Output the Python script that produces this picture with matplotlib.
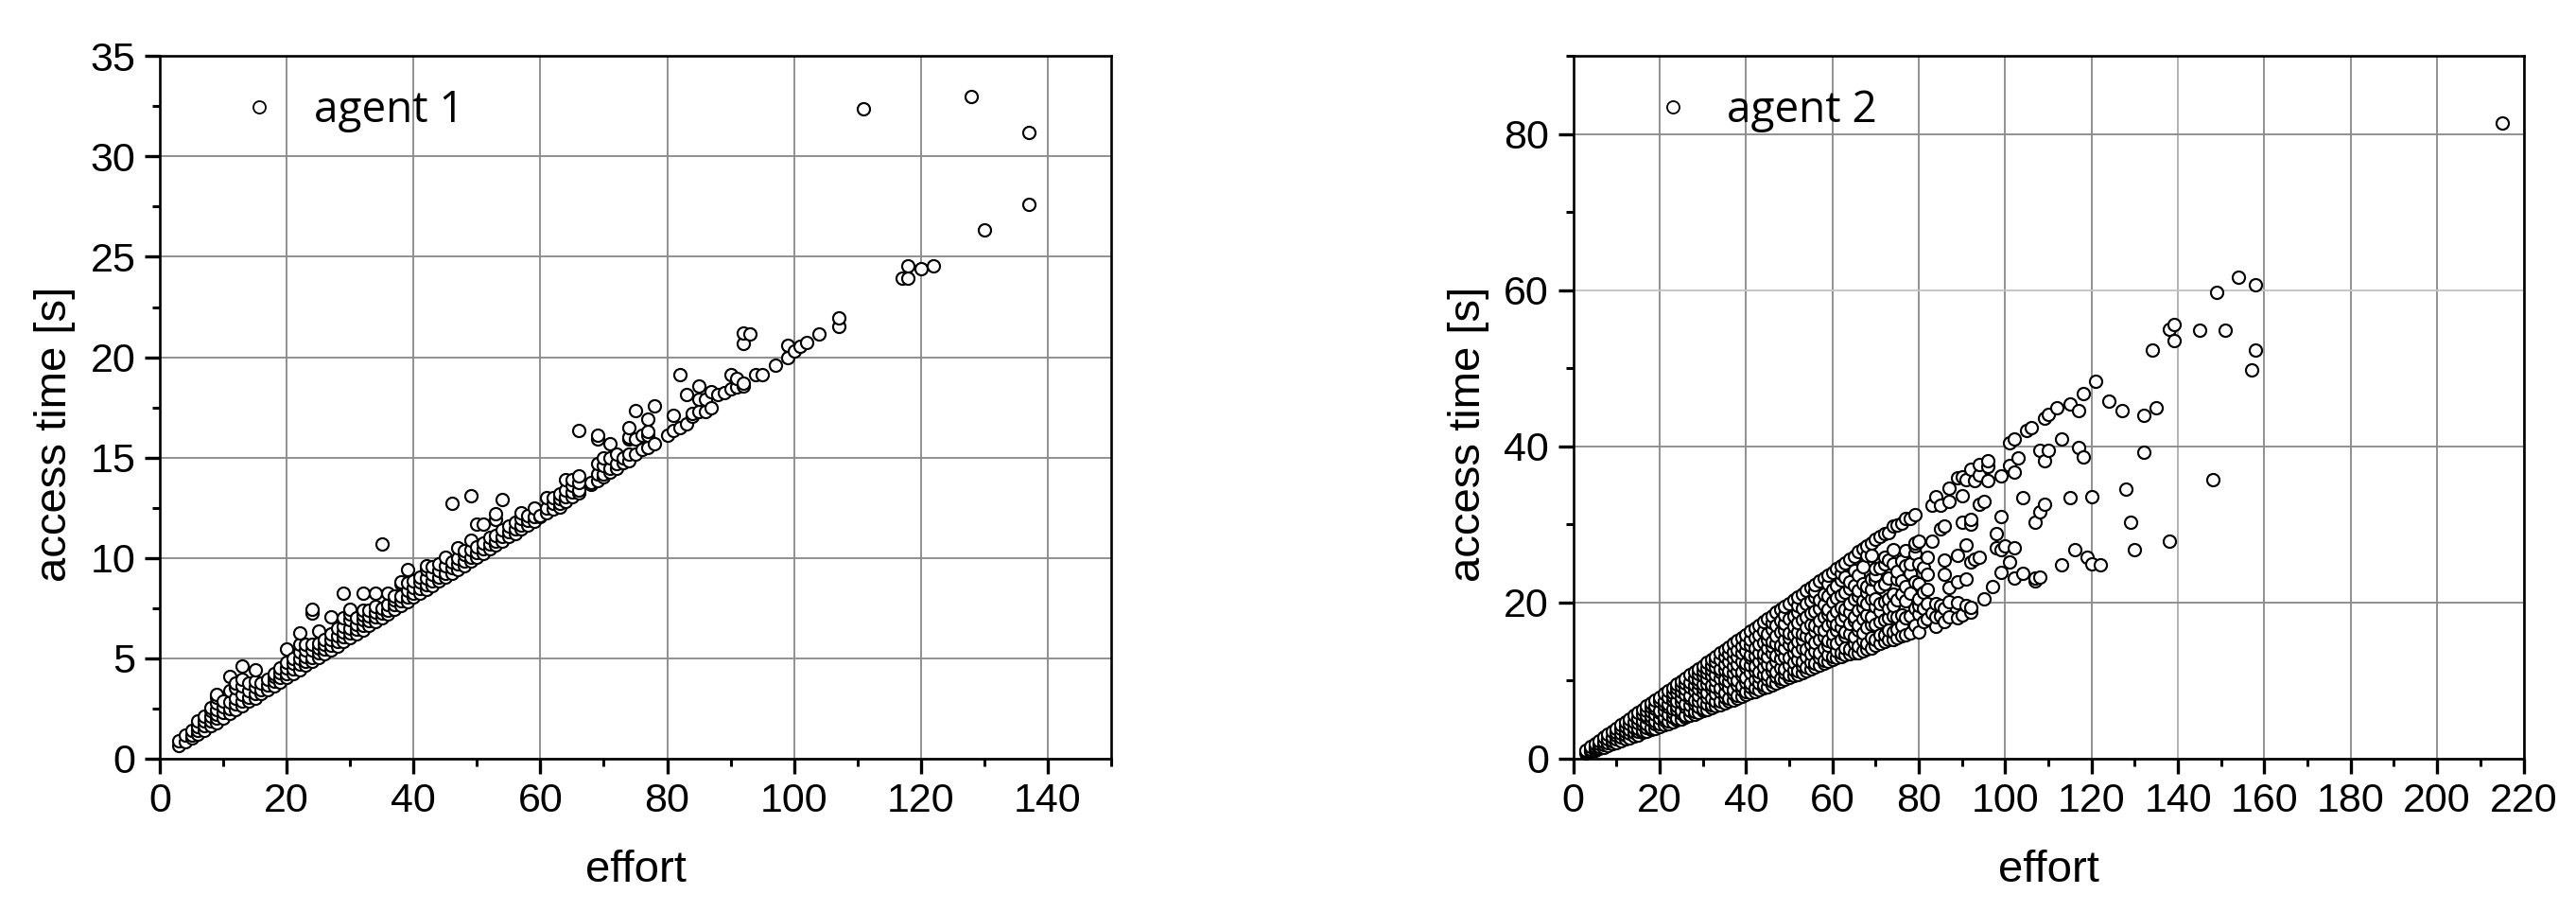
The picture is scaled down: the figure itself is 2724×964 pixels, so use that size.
import matplotlib
matplotlib.use("Agg")
import matplotlib.pyplot as plt
from matplotlib.ticker import MultipleLocator

plt.rcParams["font.family"] = ["Liberation Sans", "DejaVu Sans"]

# each row of times belongs to the effort at the same position
agent1_effort = [
    3, 4, 5, 6, 7, 8, 9, 10, 11, 12, 13, 14, 15, 16, 17, 18, 19, 20, 21, 22, 23, 24, 25, 26, 27, 28, 29, 30,
    31, 32, 33, 34, 35, 36, 37, 38, 39, 40, 41, 42, 43, 44, 45, 46, 47, 48, 49, 50, 51, 52, 53, 54, 55, 56,
    57, 58, 59, 60, 61, 62, 63, 64, 65, 66, 68, 69, 70, 71, 72, 73, 74, 75, 76, 77, 78, 80, 81, 82, 83, 84,
    85, 86, 87, 88, 89, 90, 91, 92, 93, 94, 95, 97, 99, 100, 101, 102, 104, 107, 111, 117, 118, 120, 122,
    128, 130, 137,
]
agent1_time = [
    [0.63, 0.86], [0.85, 1.18], [1.0, 1.15, 1.4], [1.22, 1.4, 1.6, 1.88], [1.42, 1.65, 1.85, 2.1],
    [1.62, 1.85, 2.1, 2.4, 2.55], [1.8, 2.0, 2.2, 2.45, 2.75, 3.06, 3.2], [2.02, 2.3, 2.6, 2.85],
    [2.25, 2.5, 2.8, 3.4, 4.07], [2.45, 2.7, 3.0, 3.5, 3.75], [2.62, 2.85, 3.2, 3.6, 3.95, 4.63],
    [2.85, 3.05, 3.4, 3.75], [3.02, 3.25, 3.55, 3.85, 4.4], [3.22, 3.45, 3.75], [3.42, 3.65, 3.95],
    [3.62, 3.85, 4.1, 4.25], [3.82, 4.05, 4.3, 4.5], [4.02, 4.25, 4.5, 4.8, 5.45], [4.22, 4.45, 4.75, 5.0],
    [4.42, 4.7, 5.0, 5.3, 5.7, 6.28], [4.65, 4.85, 5.1, 5.4, 5.7], [4.82, 5.05, 5.4, 5.7, 7.27, 7.45],
    [5.02, 5.25, 5.5, 5.75, 6.36], [5.22, 5.45, 5.7, 5.95], [5.42, 5.65, 5.95, 6.2, 7.06],
    [5.62, 5.85, 6.1, 6.5], [5.82, 6.05, 6.3, 6.6, 7.0, 8.24], [6.02, 6.25, 6.5, 6.9, 7.2, 7.45],
    [6.22, 6.45, 6.7, 7.0], [6.42, 6.65, 6.9, 7.15, 7.4, 8.24], [6.62, 6.85, 7.1, 7.4],
    [6.82, 7.05, 7.3, 7.6, 8.24], [7.02, 7.25, 7.5, 10.7], [7.22, 7.4, 7.65, 8.24], [7.42, 7.65, 7.9, 8.1],
    [7.62, 7.85, 8.1, 8.7, 8.8], [7.82, 8.05, 8.4, 8.75, 9.4], [8.05, 8.25, 8.5, 8.85], [8.22, 8.45, 8.8, 9.05],
    [8.42, 8.65, 9.0, 9.4, 9.6], [8.62, 8.85, 9.2, 9.55], [8.85, 9.05, 9.35, 9.7], [9.02, 9.25, 9.6, 10.05],
    [9.25, 9.5, 9.8, 12.7], [9.42, 9.7, 10.0, 10.5], [9.62, 9.85, 10.15, 10.35], [9.85, 10.05, 10.4, 10.9, 13.1],
    [10.05, 10.25, 10.55, 11.7], [10.22, 10.45, 10.75, 11.67], [10.45, 10.7, 11.0],
    [10.62, 10.85, 11.1, 11.9, 12.2], [10.85, 11.05, 11.4, 12.9], [11.05, 11.3, 11.6], [11.22, 11.45, 11.75],
    [11.42, 11.65, 11.95, 12.25], [11.62, 11.85, 12.1], [11.82, 12.05, 12.5], [12.05, 12.1], [12.25, 12.5, 13.0],
    [12.45, 12.7, 13.0], [12.55, 12.7, 12.95, 13.2], [12.8, 13.05, 13.4, 13.9], [13.05, 13.3, 13.6, 13.9],
    [13.25, 13.4, 13.75, 14.1, 16.35], [13.65, 13.75], [13.85, 14.2, 14.7, 15.9, 16.1], [14.05, 14.2, 14.6, 15.0],
    [14.25, 14.45, 15.0, 15.7], [14.45, 14.7, 15.15], [14.75, 15.0], [14.85, 15.15, 15.9, 16.0, 16.5],
    [15.15, 15.9, 17.35], [15.4, 16.1], [15.5, 16.1, 16.3, 16.9], [15.7, 17.55], [16.1], [16.35, 17.1],
    [16.5, 19.15], [16.7, 18.15], [17.05, 17.2], [17.3, 17.9, 18.55], [17.3, 17.9], [17.5, 18.3], [18.15],
    [18.25], [18.4, 19.15], [18.5, 18.95], [18.55, 18.7, 20.7, 21.2], [21.15], [19.15], [19.15], [19.6],
    [19.97, 20.6], [20.3], [20.55], [20.75], [21.15], [21.55, 21.97], [32.4], [23.94], [23.94, 24.53], [24.4],
    [24.55], [33.0], [26.36], [27.6, 31.2],
]

agent2_effort = [
    3, 4, 5, 6, 7, 8, 9, 10, 11, 12, 13, 14, 15, 16, 17, 18, 19, 20, 21, 22, 23, 24, 25, 26, 27, 28, 29, 30,
    31, 32, 33, 34, 35, 36, 37, 38, 39, 40, 41, 42, 43, 44, 45, 46, 47, 48, 49, 50, 51, 52, 53, 54, 55, 56,
    57, 58, 59, 60, 61, 62, 63, 64, 65, 66, 67, 68, 69, 70, 71, 72, 73, 74, 75, 76, 77, 78, 79, 80, 81, 82,
    83, 84, 85, 86, 87, 89, 90, 91, 92, 93, 94, 95, 96, 97, 98, 99, 100, 101, 102, 103, 104, 105, 106, 107,
    108, 109, 110, 112, 113, 115, 116, 117, 118, 119, 120, 121, 122, 124, 127, 128, 129, 130, 132, 134, 135,
    138, 139, 145, 148, 149, 151, 154, 157, 158, 215,
]
agent2_time = [
    [0.7, 0.9, 1.1], [0.9, 1.2, 1.5], [1.0, 1.3, 1.6, 1.9], [1.25, 1.6, 1.9, 2.3], [1.45, 1.8, 2.2, 2.7],
    [1.65, 2.0, 2.5, 3.1], [1.85, 2.3, 2.8, 3.5], [2.05, 2.5, 3.0, 3.4, 3.9], [2.25, 2.7, 3.2, 3.8, 4.3],
    [2.45, 3.0, 3.5, 4.1, 4.7], [2.65, 3.2, 3.7, 4.4, 5.1], [2.85, 3.4, 4.0, 4.7, 5.5],
    [3.05, 3.5, 3.9, 4.6, 5.2, 5.9],
    [3.3, 3.6, 4.3, 4.8, 5.7, 6.3],
    [3.5, 4.0, 4.5, 5.3, 5.5, 6.1, 6.7],
    [3.7, 4.0, 4.9, 5.4, 6.0, 6.6, 7.1],
    [3.9, 4.5, 4.8, 5.7, 6.4, 6.8, 7.5],
    [4.1, 4.4, 5.2, 5.9, 6.2, 7.3, 7.9],
    [4.3, 4.9, 5.3, 6.1, 6.9, 7.4, 8.3],
    [4.5, 4.8, 5.7, 6.6, 7.0, 7.9, 8.7],
    [4.7, 5.3, 5.9, 6.4, 7.5, 8.0, 8.5, 9.1],
    [4.9, 5.2, 6.3, 6.8, 7.3, 8.4, 9.0, 9.5],
    [5.1, 5.8, 6.2, 7.2, 7.9, 8.6, 9.3, 9.9],
    [5.3, 5.6, 6.6, 7.0, 8.2, 8.9, 9.7, 10.3],
    [5.5, 6.2, 6.9, 7.7, 8.1, 9.2, 9.8, 10.7],
    [5.7, 6.0, 7.0, 7.5, 8.7, 9.4, 10.3, 11.1],
    [5.9, 6.6, 7.4, 8.1, 8.9, 9.7, 10.1, 10.9, 11.5],
    [6.1, 6.4, 7.2, 8.4, 9.1, 9.5, 10.6, 11.2, 11.9],
    [6.3, 7.0, 7.9, 8.5, 9.6, 10.3, 11.0, 11.6, 12.3],
    [6.5, 6.9, 7.7, 8.9, 9.4, 10.6, 11.4, 12.0, 12.7],
    [6.7, 7.4, 8.3, 9.2, 10.0, 10.7, 11.7, 12.4, 13.1],
    [6.9, 7.3, 8.6, 9.0, 10.3, 11.1, 11.5, 12.7, 13.5],
    [7.1, 7.9, 8.4, 9.6, 10.1, 11.4, 12.1, 13.1, 13.9],
    [7.3, 7.7, 9.0, 9.9, 10.7, 11.2, 12.4, 13.4, 14.3],
    [7.5, 8.3, 8.8, 10.2, 11.0, 11.8, 12.8, 13.7, 14.7],
    [7.7, 8.1, 9.4, 10.0, 11.3, 12.1, 13.1, 13.9, 15.1],
    [7.95, 8.8, 9.3, 10.6, 11.1, 12.5, 13.5, 14.4, 15.5],
    [8.2, 8.6, 9.8, 10.4, 11.7, 12.2, 13.8, 14.8, 15.9],
    [8.4, 9.2, 9.7, 11.0, 12.0, 12.9, 13.3, 14.5, 15.2, 16.3],
    [8.6, 9.0, 10.2, 11.3, 11.9, 13.2, 14.2, 15.5, 16.7],
    [8.8, 9.7, 10.5, 11.1, 12.4, 13.6, 14.6, 15.9, 17.1],
    [9.0, 9.4, 10.8, 11.7, 12.8, 13.4, 14.9, 16.3, 17.5],
    [9.2, 10.1, 10.7, 12.1, 13.1, 14.1, 15.3, 16.0, 17.9],
    [9.4, 9.9, 11.2, 11.9, 13.5, 14.4, 15.0, 16.6, 17.4, 18.3],
    [9.7, 10.5, 11.1, 12.5, 13.2, 14.8, 15.7, 17.0, 18.7],
    [9.9, 10.3, 11.6, 12.8, 13.9, 14.5, 16.2, 17.7, 19.1],
    [10.1, 11.0, 11.5, 13.1, 14.2, 15.2, 16.5, 17.3, 18.4, 19.5],
    [10.35, 10.8, 12.0, 12.9, 14.6, 15.5, 16.1, 17.9, 19.9],
    [10.6, 11.4, 12.3, 13.5, 14.4, 15.9, 16.9, 18.3, 20.3],
    [10.8, 11.2, 12.7, 13.8, 15.0, 16.2, 17.4, 18.8, 19.6, 20.7],
    [11.0, 11.9, 12.5, 14.2, 15.3, 16.0, 17.8, 19.2, 21.1],
    [11.25, 11.7, 13.1, 14.0, 15.7, 16.8, 18.1, 19.8, 21.5],
    [11.5, 12.3, 13.4, 14.6, 15.5, 17.2, 18.6, 20.2, 21.9],
    [11.7, 12.2, 13.8, 14.9, 16.3, 17.0, 18.9, 20.7, 21.4, 22.3],
    [11.95, 12.9, 13.6, 15.3, 16.6, 17.7, 19.3, 20.3, 22.7],
    [12.2, 12.6, 14.2, 15.6, 16.4, 18.1, 19.7, 21.1, 23.1],
    [12.45, 13.3, 14.5, 15.1, 17.0, 18.5, 19.1, 20.8, 22.4, 23.5],
    [12.7, 13.1, 14.9, 16.0, 17.4, 18.3, 20.1, 21.7, 23.9],
    [12.9, 13.8, 14.7, 16.4, 17.2, 18.9, 20.6, 22.2, 24.3],
    [13.1, 13.6, 15.3, 16.8, 17.8, 19.4, 20.9, 22.9, 23.7, 24.7],
    [13.3, 14.2, 15.7, 16.2, 18.3, 19.1, 21.3, 23.3, 25.1],
    [13.45, 14.0, 16.0, 17.3, 18.7, 19.9, 21.8, 22.6, 25.5],
    [13.6, 14.7, 15.6, 17.7, 18.2, 20.4, 22.2, 24.1, 25.9],
    [13.6, 14.4, 16.4, 17.1, 19.0, 20.8, 21.6, 23.5, 26.5],
    [13.8, 15.1, 16.1, 17.9, 19.4, 20.2, 22.4, 24.6, 26.9],
    [14.0, 14.8, 16.8, 18.4, 19.9, 21.3, 22.0, 26.0, 27.3],
    [14.2, 15.5, 17.2, 18.1, 20.5, 21.7, 23.0, 26.0, 27.6],
    [14.5, 15.2, 17.2, 19.5, 20.4, 22.9, 23.5, 24.3, 28.1],
    [14.8, 15.9, 17.5, 18.9, 19.8, 22.0, 24.5, 28.5],
    [15.0, 15.8, 17.8, 20.1, 22.4, 24.9, 25.8, 28.8],
    [15.2, 16.5, 18.0, 19.2, 20.4, 23.1, 25.4, 29.0],
    [15.3, 16.2, 18.3, 19.6, 21.0, 24.9, 26.8, 29.8],
    [15.5, 16.6, 18.1, 20.3, 23.0, 24.0, 29.9],
    [15.7, 17.0, 18.4, 21.1, 22.7, 25.3, 30.2],
    [15.9, 18.0, 20.2, 22.0, 24.7, 26.6, 30.7],
    [16.1, 18.3, 21.2, 23.7, 25.0, 30.8],
    [17.1, 19.2, 22.6, 26.3, 27.3, 27.6, 31.3],
    [16.2, 18.5, 19.6, 20.5, 22.4, 25.0, 27.8],
    [17.5, 19.2, 21.3, 24.4], [17.9, 19.9, 21.7, 23.6, 25.8], [18.6, 27.8, 32.4], [16.9, 18.1, 19.9, 33.5],
    [18.3, 19.6, 29.4, 32.4], [17.5, 19.3, 23.6, 25.4, 29.8], [18.2, 20.1, 21.9, 33.0, 34.6],
    [18.0, 20.0, 22.6, 26.0, 36.0], [18.4, 30.3, 33.7, 36.1], [19.6, 23.0, 27.4, 35.7],
    [18.8, 19.4, 25.2, 30.0, 30.6, 37.1], [25.5, 35.6], [25.8, 32.6, 36.3, 37.7], [20.4, 32.9],
    [35.6, 37.4, 38.2], [22.0], [27.0, 28.8], [23.9, 26.7, 31.0, 36.2], [27.3], [25.2, 37.5, 40.5],
    [23.1, 27.0, 36.7, 41.0], [38.5], [23.7, 33.4], [42.0], [42.4], [22.7, 23.1, 30.3], [23.2, 31.6, 39.5],
    [32.6, 38.1, 43.6], [39.5, 44.1], [44.9], [24.8, 41.0], [33.4, 45.4], [26.8], [39.8, 44.6], [38.7, 46.8],
    [25.8], [24.9, 33.5], [48.4], [24.8], [45.8], [44.6], [34.5], [30.3], [26.8], [39.2, 44.0], [52.4], [44.9],
    [27.8, 55.0], [53.6, 55.6], [54.9], [35.7], [59.7], [54.9], [61.7], [49.8], [52.4, 60.7], [81.4],
]

x_limits = [(0, 150), (0, 220)]
y_limits = [(0, 35), (0, 90)]
y_majors = [5, 20]
legend_labels = ["agent 1", "agent 2"]


def flatten(efforts, rows):
    xs, ys = [], []
    for effort, times in zip(efforts, rows, strict=True):
        for t in times:
            xs.append(effort)
            ys.append(t)
    return xs, ys


fig = plt.figure(figsize=(27.24, 9.64), dpi=100)
W, H = 2724, 964
boxes = [(169, 1175), (1663.7, 2668.5)]
series = [flatten(agent1_effort, agent1_time), flatten(agent2_effort, agent2_time)]

for i, (left, right) in enumerate(boxes):
    ax = fig.add_axes([left / W, (H - 801.7) / H, (right - left) / W, 742.3 / H])
    xs, ys = series[i]
    ax.plot(xs, ys, ls="none", marker="o", ms=9.4, mfc="white", mec="black", mew=1.55, zorder=3, clip_on=False)
    ax.set_xlim(*x_limits[i])
    ax.set_ylim(*y_limits[i])
    ax.xaxis.set_major_locator(MultipleLocator(20))
    ax.xaxis.set_minor_locator(MultipleLocator(10))
    ax.yaxis.set_major_locator(MultipleLocator(y_majors[i]))
    ax.yaxis.set_minor_locator(MultipleLocator(y_majors[i] / 2))
    ax.grid(True, which="major", color="#8c8c8c", lw=1.35)
    ax.set_axisbelow(True)
    ax.tick_params(which="major", length=11.5, width=2.4, labelsize=31, pad=7)
    ax.tick_params(which="minor", length=6, width=2.2)
    if i == 0:
        ax.set_xticks([t for t in ax.get_xticks() if t < 150])
        ax.set_xlim(*x_limits[i])
    else:
        # these two lines come out fainter in the original
        for gl, v in zip(ax.get_ygridlines(), ax.get_yticks()):
            if v == 60:
                gl.set_color("#c4c4c4")
        for gl, v in zip(ax.get_xgridlines(), ax.get_xticks()):
            if v == 140:
                gl.set_color("#b0b0b0")
    for sp in ax.spines.values():
        sp.set_linewidth(1.9)
    ax.set_xlabel("effort", fontsize=34, va="center")
    ax.xaxis.set_label_coords(0.5, -0.16)
    ax.set_ylabel("access time [s]", fontsize=34, va="center")
    ax.yaxis.set_label_coords(-0.110, 0.462)
    ax.plot([0.1046], [0.928], transform=ax.transAxes, ls="none", marker="o", ms=9.4, mfc="white", mec="black", mew=1.3, zorder=4)
    ax.text(0.162, 0.922, legend_labels[i], transform=ax.transAxes, fontsize=33, va="center", family="Open Sans", zorder=5)

fig.savefig("out.png", dpi=100)
